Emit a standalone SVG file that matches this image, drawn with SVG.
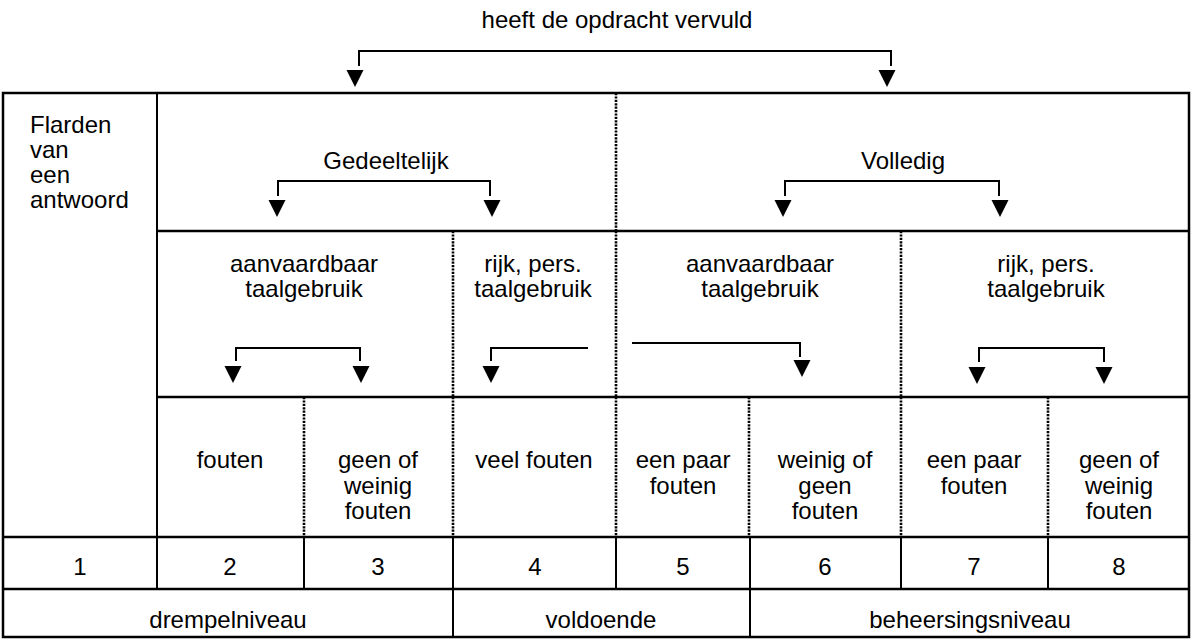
<svg xmlns="http://www.w3.org/2000/svg" xmlns:xlink="http://www.w3.org/1999/xlink" width="1192" height="639" viewBox="0 0 1192 639">
<style>
text{font-family:"Liberation Sans",Arial,sans-serif;font-size:24px;fill:#000;text-anchor:middle}
text.l{text-anchor:start}
.b{stroke:#000;stroke-width:2.5;fill:none}
.s{stroke:#000;stroke-width:2;fill:none}
.d{stroke:#000;stroke-width:2.6;stroke-dasharray:2.2 1.2;fill:none}
.c{stroke:#000;stroke-width:2;fill:none}
</style>
<defs>
<path id="ah" d="M-8.5,0 L8.5,0 L0,17 Z" fill="#000"/>
</defs>
<rect width="1192" height="639" fill="#fff"/>
<g id="title"><text x="617" y="28">heeft de opdracht vervuld</text></g>
<g id="grid">
<rect class="b" x="3" y="93" width="1186" height="544"/>
<line class="s" x1="157" y1="93" x2="157" y2="589"/>
<line class="b" x1="157" y1="231" x2="1189" y2="231"/>
<line class="b" x1="157" y1="397" x2="1189" y2="397"/>
<line class="b" x1="3" y1="537" x2="1189" y2="537"/>
<line class="b" x1="3" y1="589" x2="1189" y2="589"/>
<line class="d" x1="616" y1="93" x2="616" y2="231"/>
<line class="d" x1="453" y1="231" x2="453" y2="397"/>
<line class="d" x1="616" y1="231" x2="616" y2="397"/>
<line class="d" x1="901" y1="231" x2="901" y2="397"/>
<line class="d" x1="304" y1="397" x2="304" y2="537"/>
<line class="d" x1="453" y1="397" x2="453" y2="537"/>
<line class="d" x1="616" y1="397" x2="616" y2="537"/>
<line class="d" x1="749" y1="397" x2="749" y2="537"/>
<line class="d" x1="901" y1="397" x2="901" y2="537"/>
<line class="d" x1="1048" y1="397" x2="1048" y2="537"/>
<line class="s" x1="304" y1="537" x2="304" y2="589"/>
<line class="s" x1="453" y1="537" x2="453" y2="637"/>
<line class="s" x1="616" y1="537" x2="616" y2="589"/>
<line class="s" x1="750" y1="537" x2="750" y2="637"/>
<line class="s" x1="901" y1="537" x2="901" y2="589"/>
<line class="s" x1="1048" y1="537" x2="1048" y2="589"/>
</g>
<g id="connectors">
<path class="c" d="M359,66 V51 H891 V66"/>
<use xlink:href="#ah" x="355" y="70"/>
<use xlink:href="#ah" x="887" y="70"/>
<path class="c" d="M278,196 V181 H490 V196"/>
<use xlink:href="#ah" x="277" y="200"/>
<use xlink:href="#ah" x="492" y="200"/>
<path class="c" d="M785,196 V181 H999 V196"/>
<use xlink:href="#ah" x="783" y="200"/>
<use xlink:href="#ah" x="1000" y="200"/>
<path class="c" d="M236,361 V348 H360 V361"/>
<use xlink:href="#ah" x="233" y="366"/>
<use xlink:href="#ah" x="361" y="366"/>
<path class="c" d="M588,348 H491 V361"/>
<use xlink:href="#ah" x="491" y="366"/>
<path class="c" d="M632,343 H800 V357"/>
<use xlink:href="#ah" x="802" y="360"/>
<path class="c" d="M979,362 V348 H1104 V362"/>
<use xlink:href="#ah" x="977" y="367"/>
<use xlink:href="#ah" x="1104" y="367"/>
</g>
<g id="flarden"><text class="l" x="30" y="133">Flarden</text><text class="l" x="30" y="158">van</text><text class="l" x="30" y="183">een</text><text class="l" x="30" y="208">antwoord</text></g>
<g id="gedeeltelijk"><text x="386" y="169">Gedeeltelijk</text></g>
<g id="volledig"><text x="903" y="169">Volledig</text></g>
<g id="aanv1"><text x="304" y="272">aanvaardbaar</text><text x="304" y="297">taalgebruik</text></g>
<g id="rijk1"><text x="533" y="272">rijk, pers.</text><text x="533" y="297">taalgebruik</text></g>
<g id="aanv2"><text x="760" y="272">aanvaardbaar</text><text x="760" y="297">taalgebruik</text></g>
<g id="rijk2"><text x="1046" y="272">rijk, pers.</text><text x="1046" y="297">taalgebruik</text></g>
<g id="c2"><text x="230" y="468">fouten</text></g>
<g id="c3"><text x="378" y="468">geen of</text><text x="378" y="493.5">weinig</text><text x="378" y="519">fouten</text></g>
<g id="c4"><text x="534" y="468">veel fouten</text></g>
<g id="c5"><text x="683" y="468">een paar</text><text x="683" y="493.5">fouten</text></g>
<g id="c6"><text x="825" y="468">weinig of</text><text x="825" y="493.5">geen</text><text x="825" y="519">fouten</text></g>
<g id="c7"><text x="974" y="468">een paar</text><text x="974" y="493.5">fouten</text></g>
<g id="c8"><text x="1119" y="468">geen of</text><text x="1119" y="493.5">weinig</text><text x="1119" y="519">fouten</text></g>
<g id="numbers">
<text x="80" y="575">1</text><text x="230" y="575">2</text><text x="378" y="575">3</text><text x="535" y="575">4</text><text x="683" y="575">5</text><text x="825" y="575">6</text><text x="974" y="575">7</text><text x="1119" y="575">8</text>
</g>
<g id="levels"><text x="228" y="628">drempelniveau</text><text x="601" y="628">voldoende</text><text x="970" y="628">beheersingsniveau</text></g>
</svg>
